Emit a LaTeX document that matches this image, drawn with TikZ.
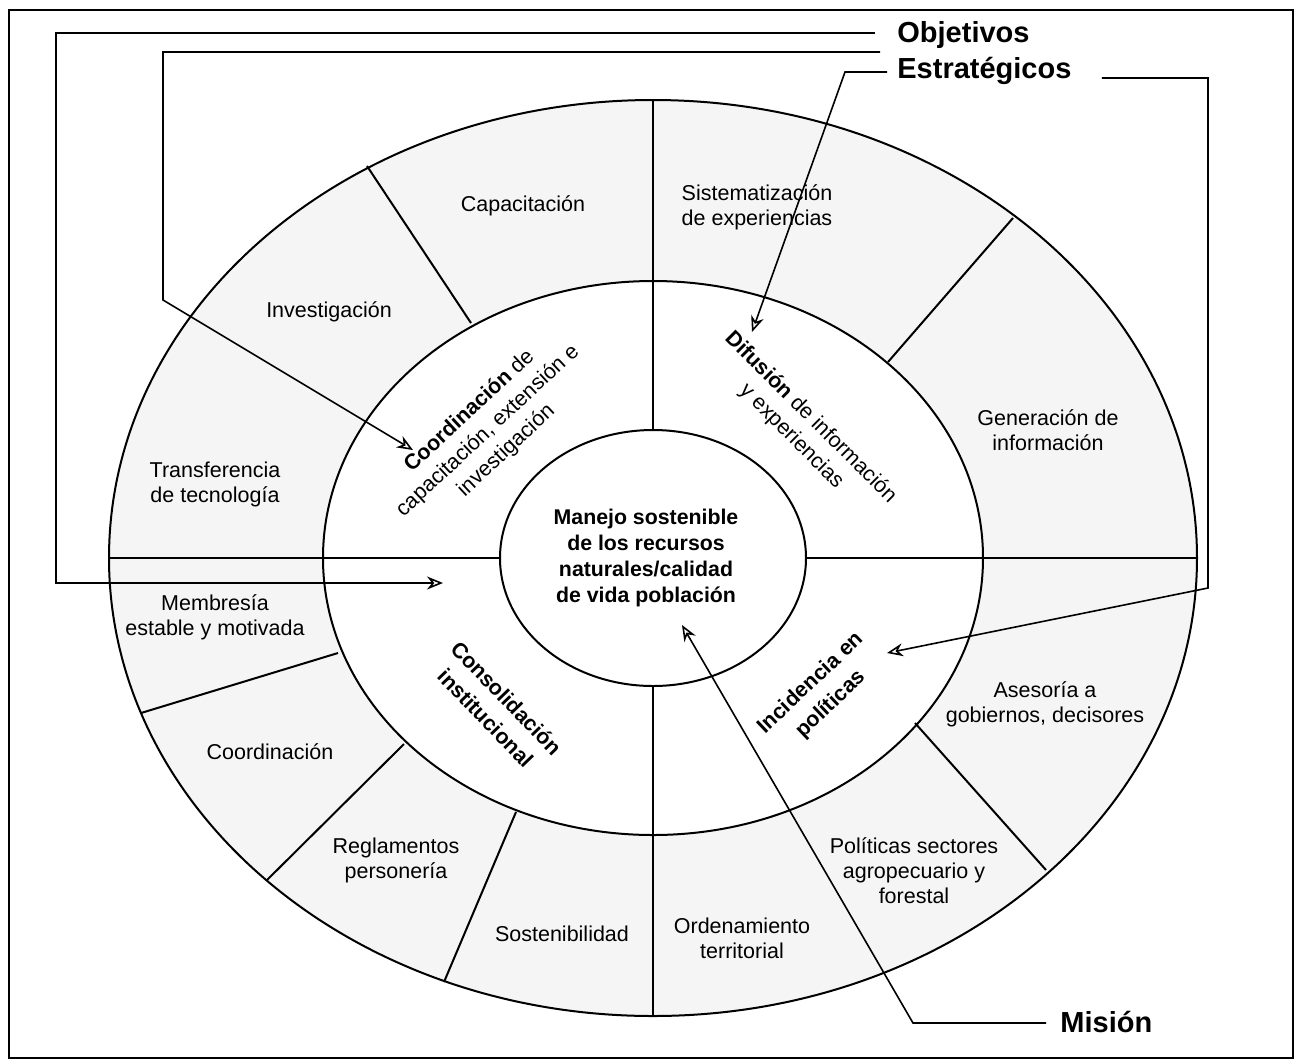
\documentclass[tikz,border=0pt]{standalone}
\usepackage{fontspec}
\setmainfont{Liberation Sans}
\usetikzlibrary{arrows.meta}

\begin{document}
\begin{tikzpicture}[x=0.5pt,y=-0.5pt,
    ring/.style={line width=1pt},
    split/.style={line width=1pt},
    txt/.style={font=\fontsize{10.75}{12.5}\selectfont,align=center,inner sep=0pt},
    goal/.style={font=\fontsize{10.75}{13.5}\selectfont,align=center,inner sep=0pt},
    head/.style={font=\fontsize{14.5}{17}\selectfont\bfseries,anchor=west,inner sep=0pt},
    link/.style={line width=0.8pt,-{Stealth[open,length=8pt,width=6.5pt]}}]
   \useasboundingbox (0,0) rectangle (1297,1062);
   % Frame
   \draw[line width=0.6pt] (9,10) rectangle (1293,1058);
   % Rings
   \draw[ring,fill=black!4] (653,558) ellipse [x radius=544,y radius=458];
   \draw[ring,fill=white]   (653,558) ellipse [x radius=330,y radius=277];
   \draw[ring,fill=white]   (653,558) ellipse [x radius=153,y radius=128];
   % Axes through both rings
   \draw[split] (653,100) -- (653,430);
   \draw[split] (653,686) -- (653,1016);
   \draw[split] (109,558) -- (500,558);
   \draw[split] (806,558) -- (1197,558);
   % Outer ring sectors
   \draw[split] (367,166) -- (471,323);
   \draw[split] (141,713) -- (338,653);
   \draw[split] (267,880) -- (404,744);
   \draw[split] (444,982) -- (516,812);
   \draw[split] (915,723) -- (1046,870);
   \draw[split] (888,362) -- (1013,218);
   % Mission
   \node[txt,font=\fontsize{10.65}{12.85}\selectfont\bfseries] (core) at (646,558)
      {Manejo sostenible\\de los recursos\\naturales/calidad\\de vida población};
   % Strategic objectives
   \node[goal,rotate=43] (coord) at (488,431)
      {\textbf{Coordinación} de\\capacitación, extensión e\\investigación};
   \node[goal,rotate=-45] (difu) at (801,427)
      {\textbf{Difusión} de información\\y experiencias};
   \node[goal,rotate=-46,font=\fontsize{10.75}{14.5}\selectfont\bfseries] (consol) at (496,708)
      {Consolidación\\institucional};
   \node[goal,rotate=43.5,font=\fontsize{10.75}{14.5}\selectfont\bfseries] (incid) at (821,694)
      {Incidencia en\\políticas};
   % Outer ring labels
   \node[txt] (capac) at (523,206) {Capacitación};
   \node[txt] (inves) at (329,312) {Investigación};
   \node[txt] (transf) at (215,484) {Transferencia\\de tecnología};
   \node[txt] (membr) at (215,617) {Membresía\\estable y motivada};
   \node[txt] (coordi) at (270,752) {Coordinación};
   \node[txt] (regla) at (396,860) {Reglamentos\\personería};
   \node[txt] (soste) at (562,934) {Sostenibilidad};
   \node[txt] (orden) at (742,938) {Ordenamiento\\territorial};
   \node[txt] (polit) at (914,871) {Políticas sectores\\agropecuario y\\forestal};
   \node[txt] (aseso) at (1045,704) {Asesoría a\\gobiernos, decisores};
   \node[txt] (gener) at (1048,430) {Generación de\\información};
   \node[txt] (siste) at (757,207) {Sistematización\\de experiencias};
   % Titles
   \node[head] (obj) at (897,35) {Objetivos};
   \node[head] (est) at (897,71) {Estratégicos};
   \node[head] (mis) at (1060,1022) {Misión};
   % Arrow ends
   \coordinate (tipC) at (443,583);
   \coordinate (tipA) at (413,450);
   \coordinate (tipD) at (752,332);
   \coordinate (tipI) at (887,653);
   \coordinate (tipM) at (682,625);
   % Connectors
   \draw[link] ([shift={(-22,-2)}]obj.west) -| (56,583) -- (tipC);
   \draw[link] ([shift={(-17,17)}]obj.west) -| (163,300) -- (tipA);
   \draw[link] ([shift={(-10,1)}]est.west) -- (845,72) -- (tipD);
   \draw[link] ([shift={(30,7)}]est.east) -| (1208,588) -- (tipI);
   \draw[link] ([shift={(-14,1)}]mis.west) -- (913,1023) -- (tipM);
  \end{tikzpicture}
\end{document}
